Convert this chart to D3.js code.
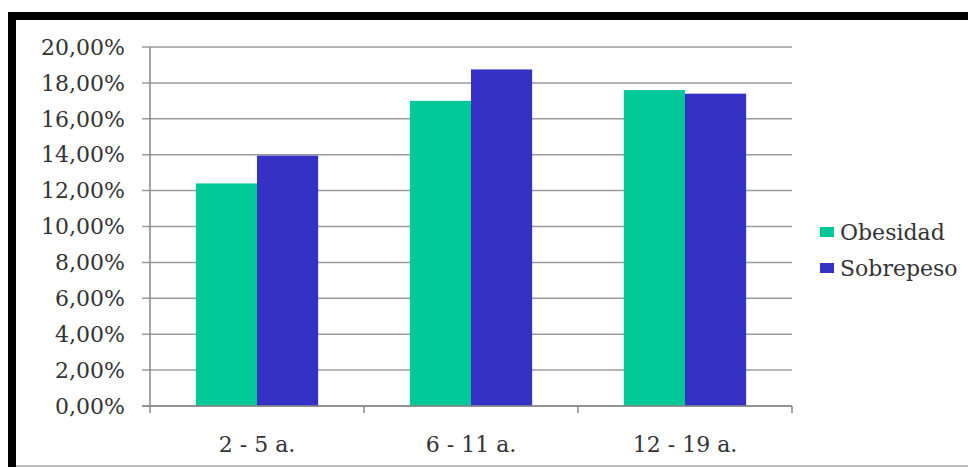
<!DOCTYPE html>
<meta charset="utf-8">
<style>
  body { margin: 0; background: #fff; }
</style>
<script src="https://d3js.org/d3.v7.min.js"></script>
<div id="my_dataviz"></div>
<script>

// data
var groups = ["2 - 5 a.", "6 - 11 a.", "12 - 19 a."];
var seriesNames = ["Obesidad", "Sobrepeso"];
var obesidad = [12.4, 17.0, 17.6];
var sobrepeso = [13.95, 18.75, 17.4];
var yTicks = [0, 2, 4, 6, 8, 10, 12, 14, 16, 18, 20];
var colors = ["#00c896", "#3530c6"];

var FONT = "'DejaVu Serif', serif";

var W = 968, H = 467;
var margin = {top: 47, left: 150, right: 176, bottom: 61};
var width = W - margin.left - margin.right,
    height = H - margin.top - margin.bottom;

var svg = d3.select("#my_dataviz")
  .append("svg")
    .attr("width", W)
    .attr("height", H);

// frame: thick black top and left edge, grey bottom
svg.append("rect").attr("x", 8).attr("y", 12).attr("width", W - 8).attr("height", 8).attr("fill", "#000");
svg.append("rect").attr("x", 8).attr("y", 12).attr("width", 8).attr("height", H - 12).attr("fill", "#000");
svg.append("line").attr("x1", 16).attr("x2", W).attr("y1", 466).attr("y2", 466)
  .attr("stroke", "#aaa").attr("stroke-width", 1.5);

var g = svg.append("g")
  .attr("transform", "translate(" + margin.left + "," + margin.top + ")");

var x = d3.scaleBand().domain(groups).range([0, width]);
var y = d3.scaleLinear().domain([0, 20]).range([height, 0]);

// gridlines
g.append("g")
  .selectAll("line")
  .data(yTicks)
  .enter()
  .append("line")
    .attr("x1", -8)
    .attr("x2", width)
    .attr("y1", function(d) { return y(d); })
    .attr("y2", function(d) { return y(d); })
    .attr("stroke", "#9a9a9a")
    .attr("stroke-width", 1.5);

// y labels
g.append("g")
  .selectAll("text")
  .data(yTicks)
  .enter()
  .append("text")
    .attr("x", -25)
    .attr("y", function(d) { return y(d); })
    .attr("dy", "0.35em")
    .attr("text-anchor", "end")
    .style("font-family", FONT)
    .style("font-size", "22px")
    .style("fill", "#333")
    .text(function(d) { return d.toFixed(2).replace(".", ",") + "%"; });

// bars, gap width 150%
var barW = x.bandwidth() / 3.5;
var table = groups.map(function(d, i) { return {group: d, values: [obesidad[i], sobrepeso[i]]}; });

var grp = g.selectAll(".grp")
  .data(table)
  .enter()
  .append("g")
    .attr("transform", function(d) { return "translate(" + (x(d.group) + x.bandwidth() / 2 - barW) + ",0)"; });

grp.selectAll("rect")
  .data(function(d) { return d.values; })
  .enter()
  .append("rect")
    .attr("x", function(d, i) { return i * barW; })
    .attr("y", function(d) { return y(d); })
    .attr("width", barW)
    .attr("height", function(d) { return height - y(d); })
    .attr("fill", function(d, i) { return colors[i]; });

// axes lines
g.append("line")
  .attr("x1", 0).attr("x2", 0).attr("y1", 0).attr("y2", height)
  .attr("stroke", "#888").attr("stroke-width", 1.5);
g.append("line")
  .attr("x1", -8).attr("x2", width).attr("y1", height).attr("y2", height)
  .attr("stroke", "#888").attr("stroke-width", 1.5);

// x ticks between categories
var xt = groups.map(function(d) { return x(d); }).concat([width]);
g.append("g")
  .selectAll("line")
  .data(xt)
  .enter()
  .append("line")
    .attr("x1", function(d) { return d; })
    .attr("x2", function(d) { return d; })
    .attr("y1", height)
    .attr("y2", height + 7)
    .attr("stroke", "#888")
    .attr("stroke-width", 1.5);

// x labels
g.append("g")
  .selectAll("text")
  .data(groups)
  .enter()
  .append("text")
    .attr("x", function(d) { return x(d) + x.bandwidth() / 2; })
    .attr("y", height + 46)
    .attr("text-anchor", "middle")
    .style("font-family", FONT)
    .style("font-size", "22px")
    .style("fill", "#333")
    .text(function(d) { return d; });

// legend
var leg = svg.append("g").attr("transform", "translate(820,227)");
seriesNames.forEach(function(name, i) {
  leg.append("rect")
    .attr("x", 0).attr("y", i * 36)
    .attr("width", 14).attr("height", 10)
    .attr("fill", colors[i]);
  leg.append("text")
    .attr("x", 20).attr("y", i * 36 + 13)
    .style("font-family", FONT)
    .style("font-size", "22px")
    .style("fill", "#333")
    .text(name);
});

</script>
